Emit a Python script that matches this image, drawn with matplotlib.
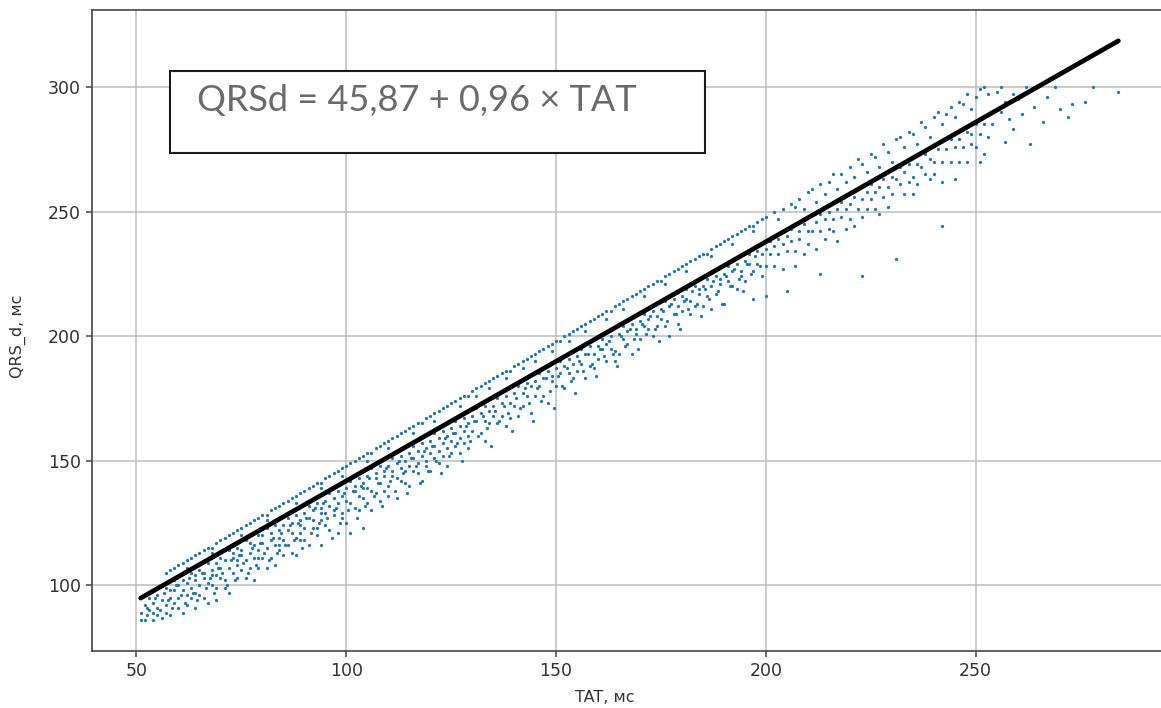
import numpy as np
import matplotlib
matplotlib.use("Agg")
import matplotlib.pyplot as plt
from matplotlib.patches import Rectangle

# regression shown in the box
intercept = 45.87
slope = 0.96
fit_tat = [51, 284]

# dense upper row of points (TAT, QRSd)
band = [(57,105),(58,106),(59,107),(60,108),(61,109),(62,110),(63,111),(64,112),(65,113),(66,114),
        (67,115),(68,115),(69,117),(70,118),(71,119),(72,120),(73,121),(74,122),(75,123),(76,124),
        (77,125),(78,126),(79,127),(80,128),(81,128),(82,130),(83,131),(84,132),(85,133),(86,134),
        (87,135),(88,136),(89,137),(90,138),(91,139),(92,140),(93,141),(94,141),(95,143),(96,144),
        (97,145),(98,146),(99,147),(100,148),(101,149),(102,150),(103,151),(104,152),(105,153),(106,153),
        (107,155),(108,156),(109,157),(110,158),(111,159),(112,160),(113,161),(114,162),(115,163),(116,164),
        (117,165),(118,165),(119,167),(120,168),(121,169),(122,170),(123,171),(124,172),(125,173),(126,174),
        (127,175),(128,176),(129,176),(130,178),(131,179),(132,180),(133,181),(134,182),(135,183),(136,184),
        (137,185),(138,186),(139,186),(140,188),(141,189),(142,190),(143,191),(144,192),(145,193),(146,194),
        (147,195),(148,196),(149,197),(150,198),(151,198),(152,200),(153,201),(154,202),(155,203),(156,204),
        (157,205),(158,206),(159,207),(160,208),(161,209),(162,210),(163,210),(164,212),(165,213),(166,214),
        (167,215),(168,216),(169,217),(170,218),(171,219),(172,220),(173,221),(174,222),(175,222),(176,224),
        (177,225),(178,226),(179,227),(180,228),(181,229),(182,230),(183,231),(184,232),(185,233),(186,233),
        (187,235),(188,236),(189,237),(190,238),(191,239),(192,240),(193,241),(194,242),(195,243),(196,244),
        (197,244),(198,246),(199,247),(200,248)]

between = [(62,107),(68,113),(75,120),(81,126),(88,133),(94,139),(99,144),(105,150),(110,155),(116,161),
           (121,166),(127,172),(131,176),(134,179),(138,183),(142,187),(145,190),(149,194),(153,198),(157,202),
           (162,207),(166,211),(171,216),(176,221),(181,226),(187,232),(192,237),(197,242)]

band_wide = [(202,250),(203,247),(204,251),(206,253),(207,252),(208,255),(209,251),(210,258),(211,259),(212,254),
             (213,261),(214,257),(215,262),(216,265),(217,259),(218,265),(219,262),(220,268),(221,264),(222,271),
             (223,269),(224,266),(225,273),(226,272),(227,268),(228,277),(229,274),(230,270),(231,279),(232,280),
             (233,276),(234,282),(235,281),(236,277),(237,286),(238,284),(239,280),(240,288),(241,290),(242,285),
             (243,289),(244,292),(245,288),(246,294),(247,293),(248,297),(249,291),(250,296),(251,299),(252,300),
             (253,297),(255,298),(256,300),(257,294),(259,297)]

cloud_low = [(51,86),(51,89),(52,86),(52,92),(53,90),(53,95),(54,89),(54,93),(54,86),(55,96),(55,91),(55,88),
             (56,94),(56,87),(57,99),(57,92),(57,89),(58,98),(58,95),(58,88),(59,102),(59,93),(59,98),
             (60,100),(60,95),(60,91),(61,98),(61,89),(61,102),(62,96),(62,101),(62,92),(63,105),(63,99),(63,95),
             (64,102),(64,97),(64,91),(64,104),(65,106),(65,100),(65,96),(66,103),(66,95),(66,105),
             (67,101),(67,109),(67,93),(68,106),(68,100),(68,104),(69,109),(69,99),(69,94),(69,104),
             (70,111),(70,103),(70,107),(71,110),(71,102),(71,99),(72,107),(72,97),(72,114),(73,111),(73,105),(73,113),
             (74,110),(74,103),(74,108),(74,115),(75,114),(75,106),(75,112),(76,118),(76,110),(76,103),
             (77,113),(77,117),(77,107),(78,116),(78,111),(78,102),(79,120),(79,114),(79,107),(79,111),
             (80,117),(80,120),(80,111),(81,115),(81,123),(81,107),(82,121),(82,111),(82,118),(83,124),(83,116),(83,108),
             (84,122),(84,114),(84,119),(84,116),(85,124),(85,118),(85,112),(86,122),(86,127),(86,116),
             (87,125),(87,113),(87,121),(88,128),(88,119),(88,112),(89,124),(89,126),(89,118),(89,121),
             (90,129),(90,123),(90,118),(91,132),(91,127),(91,116),(92,130),(92,123),(92,126),(93,133),(93,123),(93,120),
             (94,131),(94,116),(94,129),(94,126),(95,134),(95,124),(95,129),(96,137),(96,132),(96,122),
             (97,135),(97,128),(97,130),(98,138),(98,121),(98,133),(99,136),(99,129),(99,127)]

cloud_mid = [(100,139),(100,134),(100,125),(101,142),(101,121),(101,133),(102,138),(102,140),(102,131),
             (103,143),(103,136),(103,130),(104,141),(104,135),(104,123),(104,139),(105,144),(105,133),(105,139),
             (106,147),(106,138),(106,130),(107,143),(107,145),(107,137),(108,148),(108,141),(108,134),
             (109,146),(109,144),(109,138),(110,148),(110,140),(110,136),(111,151),(111,144),(111,146),
             (112,149),(112,135),(112,143),(113,152),(113,142),(113,147),(114,150),(114,146),(114,141),
             (115,153),(115,148),(115,140),(116,156),(116,146),(116,151),(117,154),(117,145),(117,149),
             (118,157),(118,152),(118,142),(119,155),(119,150),(119,148),(120,158),(120,153),(120,146),
             (121,161),(121,156),(121,151),(122,159),(122,154),(122,149),(123,162),(123,152),(123,157),
             (124,160),(124,148),(124,155),(125,163),(125,158),(125,153),(126,166),(126,161),(126,156),
             (127,164),(127,159),(127,153),(128,167),(128,162),(128,157),(129,165),(129,155),(129,160),
             (130,168),(130,162),(131,171),(131,166),(132,169),(132,161),(133,172),(133,166),(133,158),
             (134,170),(134,165),(135,172),(135,168),(136,175),(136,165),(137,173),(137,168),(138,176),(138,164),
             (139,173),(139,167),(140,177),(140,172),(141,180),(141,168),(142,177),(142,172),(143,181),(143,176),
             (144,180),(144,169),(145,182),(145,176),(146,185),(146,180),(147,176),(147,183),(148,186),(148,173),
             (149,182),(149,184),(150,187),(150,180),(151,190),(151,185),(152,188),(152,179),(153,185),(153,191),
             (154,189),(154,183),(155,192),(155,186),(156,195),(156,189),(157,193),(157,183),(158,196),(158,188),
             (159,193),(159,187),(160,196),(160,191),(161,199),(161,195),(162,190),(162,197),(163,200),(163,195),
             (164,194),(164,190),(165,201),(165,193),(166,204),(166,199),(167,202),(167,197),(168,205),(168,193),
             (169,201),(169,203),(170,206),(170,199),(171,209),(171,204),(172,203),(172,207),(173,210),(173,200),
             (174,208),(174,204),(175,211),(175,207),(176,214),(176,204),(177,212),(177,200),(178,215),(178,209),
             (179,212),(179,205),(180,216),(180,210),(181,219),(181,215),(182,214),(182,209),(183,220),(183,212),
             (184,219),(184,217),(185,220),(185,212),(186,223),(186,216),(187,220),(187,211),(188,224),(188,217),
             (189,221),(189,223),(190,225),(190,213),(191,228),(191,222),(192,220),(192,226),(193,229),(193,219),
             (194,226),(194,224),(195,230),(195,222),(196,233),(196,229),(197,226),(197,215),(198,234),(198,229),
             (199,233),(199,224)]

cloud_fill = [(52.5,91),(52.5,88),(54.5,95),(55.5,90),(56.5,97),(57.5,94),(58.5,91),(59.5,100),(60.5,96),
              (61.5,93),(62.5,103),(63.5,97),(64.5,94),(65.5,105),(66.5,99),(67.5,103),(68.5,97),(69.5,107),
              (70.5,105),(71.5,100),(72.5,110),(73.5,102),(74.5,112),(75.5,109),(76.5,105),(77.5,115),(78.5,108),
              (79.5,117),(80.5,113),(81.5,110),(82.5,119),(83.5,113),(84.5,121),(85.5,116),(86.5,124),(87.5,118),
              (88.5,125),(89.5,115),(90.5,127),(91.5,121),(92.5,131),(93.5,125),(94.5,133),(95.5,127),(96.5,119),
              (97.5,131),(98.5,125),(99.5,137),(100.5,130),(101.5,138),(102.5,127),(103.5,140),(104.5,132),
              (105.5,143),(106.5,136),(107.5,141),(108.5,132),(109.5,147),(110.5,142),(111.5,138),(112.5,150),
              (113.5,145),(114.5,137),(115.5,151),(116.5,148),(117.5,141),(118.5,154),(119.5,146),(120.5,156),
              (121.5,150),(122.5,145),(123.5,159),(124.5,152),(125.5,161),(126.5,157),(127.5,150),(128.5,164),
              (129.5,158),(130.5,166),(131.5,160),(132.5,168),(133.5,163),(134.5,156),(135.5,170),(136.5,166),
              (137.5,172),(138.5,169),(139.5,162),(140.5,175),(141.5,171),(142.5,179),(143.5,173),(144.5,166),
              (145.5,179),(146.5,174),(147.5,183),(148.5,178),(149.5,171),(150.5,184),(151.5,180),(152.5,187),
              (153.5,182),(154.5,177),(155.5,190),(156.5,186),(157.5,193),(158.5,189),(159.5,184),(160.5,195),
              (161.5,192),(162.5,198),(163.5,193),(164.5,188),(165.5,200),(166.5,196),(167.5,203),(168.5,199),
              (169.5,195),(170.5,205),(171.5,201),(172.5,208),(173.5,203),(174.5,198),(175.5,210),(176.5,206),
              (177.5,213),(178.5,209),(179.5,203),(180.5,214),(181.5,211),(182.5,218),(183.5,213),(184.5,208),
              (185.5,219),(186.5,215),(187.5,222),(188.5,218),(189.5,213),(190.5,224),(191.5,220),(192.5,227),
              (193.5,223),(194.5,218),(195.5,229),(196.5,225),(197.5,232),(198.5,228)]

cloud_high = [(200,235),(200,228),(200,216),(201,238),(201,233),(202,228),(202,236),(203,233),(203,239),
              (204,227),(204,237),(205,240),(205,218),(205,234),(206,238),(206,243),(207,234),(207,228),
              (208,242),(208,239),(209,245),(209,233),(210,242),(210,237),(211,242),(212,246),(212,235),
              (213,225),(213,242),(213,249),(214,239),(214,247),(215,250),(215,243),(216,242),(216,247),
              (217,251),(217,238),(218,248),(218,254),(219,243),(219,251),(220,253),(220,247),(221,244),(221,256),
              (222,251),(223,224),(223,255),(223,248),(224,258),(224,251),(225,255),(225,261),(226,251),(226,258),
              (227,260),(227,249),(228,256),(228,263),(229,252),(229,260),(230,264),(230,257),(231,231),(231,263),
              (232,261),(232,268),(233,257),(233,266),(234,262),(234,269),(235,264),(235,257),(236,269),(236,261),
              (237,268),(238,273),(238,265),(239,263),(239,271),(240,270),(240,265),(241,275),(242,244),(242,262),
              (242,270),(243,275),(244,270),(244,279),(245,263),(245,276),(246,279),(246,270),(247,276),
              (248,282),(248,270),(249,277),(249,281),(250,276),(250,285),(251,270),(251,281),(252,285),(252,273),
              (253,280),(254,285)]

tail = [(256,290),(257,278),(258,287),(259,283),(260,295),(261,289),(262,300),(263,277),(264,292),
        (266,286),(267,296),(269,300),(270,291),(272,288),(273,293),(276,294),(278,300),(284,298)]

pts = np.array(band + between + band_wide + cloud_low + cloud_mid + cloud_fill + cloud_high + tail,
               dtype=float)
tat, qrs = pts[:, 0], pts[:, 1]
line_x = np.array(fit_tat, dtype=float)
line_y = intercept + slope * line_x

fig = plt.figure(figsize=(11.61, 7.08), dpi=100)
# axes run past the right edge: the right spine is cut off in the source picture
ax = fig.add_axes([92 / 1161, 57 / 708, 1100 / 1161, 641 / 708])

ax.scatter(tat, qrs, s=5.5, color="#1f77b4", linewidths=0, zorder=2)
ax.plot(line_x, line_y, color="black", lw=3.4, solid_capstyle="round", zorder=3)

ax.set_xlim(39.4, 39.4 + 1100 / 4.196)
ax.set_ylim(73.6, 330.9)
ax.set_xticks([50, 100, 150, 200, 250])
ax.set_yticks([100, 150, 200, 250, 300])
ax.grid(True, color="#bdbdbd", lw=1.1, zorder=0)
ax.set_axisbelow(True)
for sp in ax.spines.values():
    sp.set_color("#444444")
    sp.set_linewidth(1.2)
ax.tick_params(labelsize=12.5, labelcolor="#333333", color="#444444", length=4.5, width=1.1)

ax.set_xlabel("TAT, мс", fontsize=11.5, color="#333333")
ax.xaxis.set_label_coords((605 - 92) / 1100, -0.061)
ax.set_ylabel("QRS_d, мс", fontsize=11.5, color="#333333")
ax.yaxis.set_label_coords(-66 / 1100, 0.491)

# equation box pasted over the plot
fig.add_artist(Rectangle((170 / 1161, 555 / 708), 535 / 1161, 82 / 708, transform=fig.transFigure,
                         facecolor="white", edgecolor="#1a1a1a", lw=1.5, zorder=5))
fig.text(197 / 1161, (708 - 111) / 708, "QRSd = 45,87 + 0,96 × TAT", fontsize=26,
         family=["Lato", "DejaVu Sans"], color="#6a6a6a",
         ha="left", va="baseline", zorder=6)

fig.savefig("out.png", dpi=100)
